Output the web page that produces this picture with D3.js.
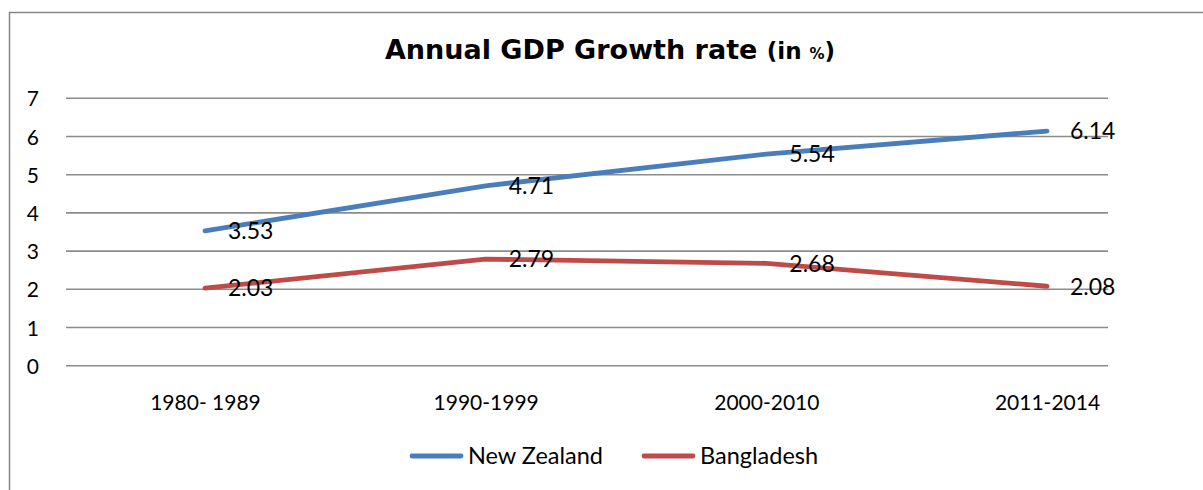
<!DOCTYPE html>
<html>
<head>
<meta charset="utf-8">
<script src="https://cdn.jsdelivr.net/npm/d3@7"></script>
<style>
  html, body { margin: 0; padding: 0; background: #fff; }
  svg { display: block; }
</style>
</head>
<body>
<svg id="chart" width="1203" height="490"></svg>
<script>
const categories = ["1980- 1989", "1990-1999", "2000-2010", "2011-2014"];
const newZealand = [3.53, 4.71, 5.54, 6.14];
const bangladesh = [2.03, 2.79, 2.68, 2.08];
const seriesNames = ["New Zealand", "Bangladesh"];
const yTicks = [0, 1, 2, 3, 4, 5, 6, 7];

const series = [
  { name: seriesNames[0], values: newZealand, color: "#4A7EBB" },
  { name: seriesNames[1], values: bangladesh, color: "#BE4B48" }
];

const font = "Lato, 'Open Sans', sans-serif";
const svg = d3.select("#chart");

// frame
svg.append("path")
  .attr("d", "M9.5,490 L9.5,12.5 L1203,12.5")
  .attr("fill", "none").attr("stroke", "#878787").attr("stroke-width", 1.5);

const gridX0 = 66, gridX1 = 1108;
const x = d3.scalePoint().domain(categories).range([205, 1047]);
const y = d3.scaleLinear().domain([0, 7]).range([365.7, 98.3]);

// gridlines
svg.append("g").selectAll("line").data(yTicks).join("line")
  .attr("x1", gridX0).attr("x2", gridX1)
  .attr("y1", d => y(d)).attr("y2", d => y(d))
  .attr("stroke", "#8c8c8c").attr("stroke-width", 1.6);

// y axis labels
const yAxis = d3.axisLeft(y).tickValues(yTicks).tickFormat(d3.format("d")).tickSize(0).tickPadding(0);
const gy = svg.append("g").attr("transform", "translate(39,0)").call(yAxis);
gy.select(".domain").remove();
gy.selectAll("text").attr("font-family", font).attr("font-size", 21).attr("fill", "#000").attr("dy", "0.36em");

// x axis labels
const xAxis = d3.axisBottom(x).tickSize(0).tickPadding(0);
const gx = svg.append("g").attr("transform", "translate(0,395)").call(xAxis);
gx.select(".domain").remove();
gx.selectAll("text").attr("font-family", font).attr("font-size", 21).attr("fill", "#000").attr("dy", "0.72em");

// lines
const line = d3.line().x((d, i) => x(categories[i])).y(d => y(d));
svg.append("g").selectAll("path").data(series).join("path")
  .attr("d", d => line(d.values))
  .attr("fill", "none").attr("stroke", d => d.color)
  .attr("stroke-width", 4.8).attr("stroke-linejoin", "round").attr("stroke-linecap", "round");

// data labels
series.forEach(s => {
  svg.append("g").selectAll("text").data(s.values).join("text")
    .attr("x", (d, i) => x(categories[i]) + 23)
    .attr("y", d => y(d))
    .attr("dy", "0.36em")
    .attr("font-family", font).attr("font-size", 23).attr("fill", "#000")
    .text(d => d.toFixed(2));
});

// title
const title = svg.append("text")
  .attr("x", 610).attr("y", 59).attr("text-anchor", "middle")
  .attr("font-family", "'DejaVu Sans', sans-serif").attr("font-weight", "bold").attr("fill", "#000");
title.append("tspan").attr("font-size", 27).text("Annual GDP Growth rate ");
title.append("tspan").attr("font-size", 23).text("(in ");
title.append("tspan").attr("font-size", 15).text("%");
title.append("tspan").attr("font-size", 23).text(")");

// legend
const legendItems = [
  { s: series[0], x0: 410 },
  { s: series[1], x0: 642 }
];
const lg = svg.append("g");
legendItems.forEach(it => {
  lg.append("line").attr("x1", it.x0 + 2).attr("x2", it.x0 + 51)
    .attr("y1", 456).attr("y2", 456)
    .attr("stroke", it.s.color).attr("stroke-width", 4.8).attr("stroke-linecap", "round");
  lg.append("text").attr("x", it.x0 + 58).attr("y", 456).attr("dy", "0.36em")
    .attr("font-family", font).attr("font-size", 23.5).attr("fill", "#000")
    .text(it.s.name);
});
</script>
</body>
</html>
